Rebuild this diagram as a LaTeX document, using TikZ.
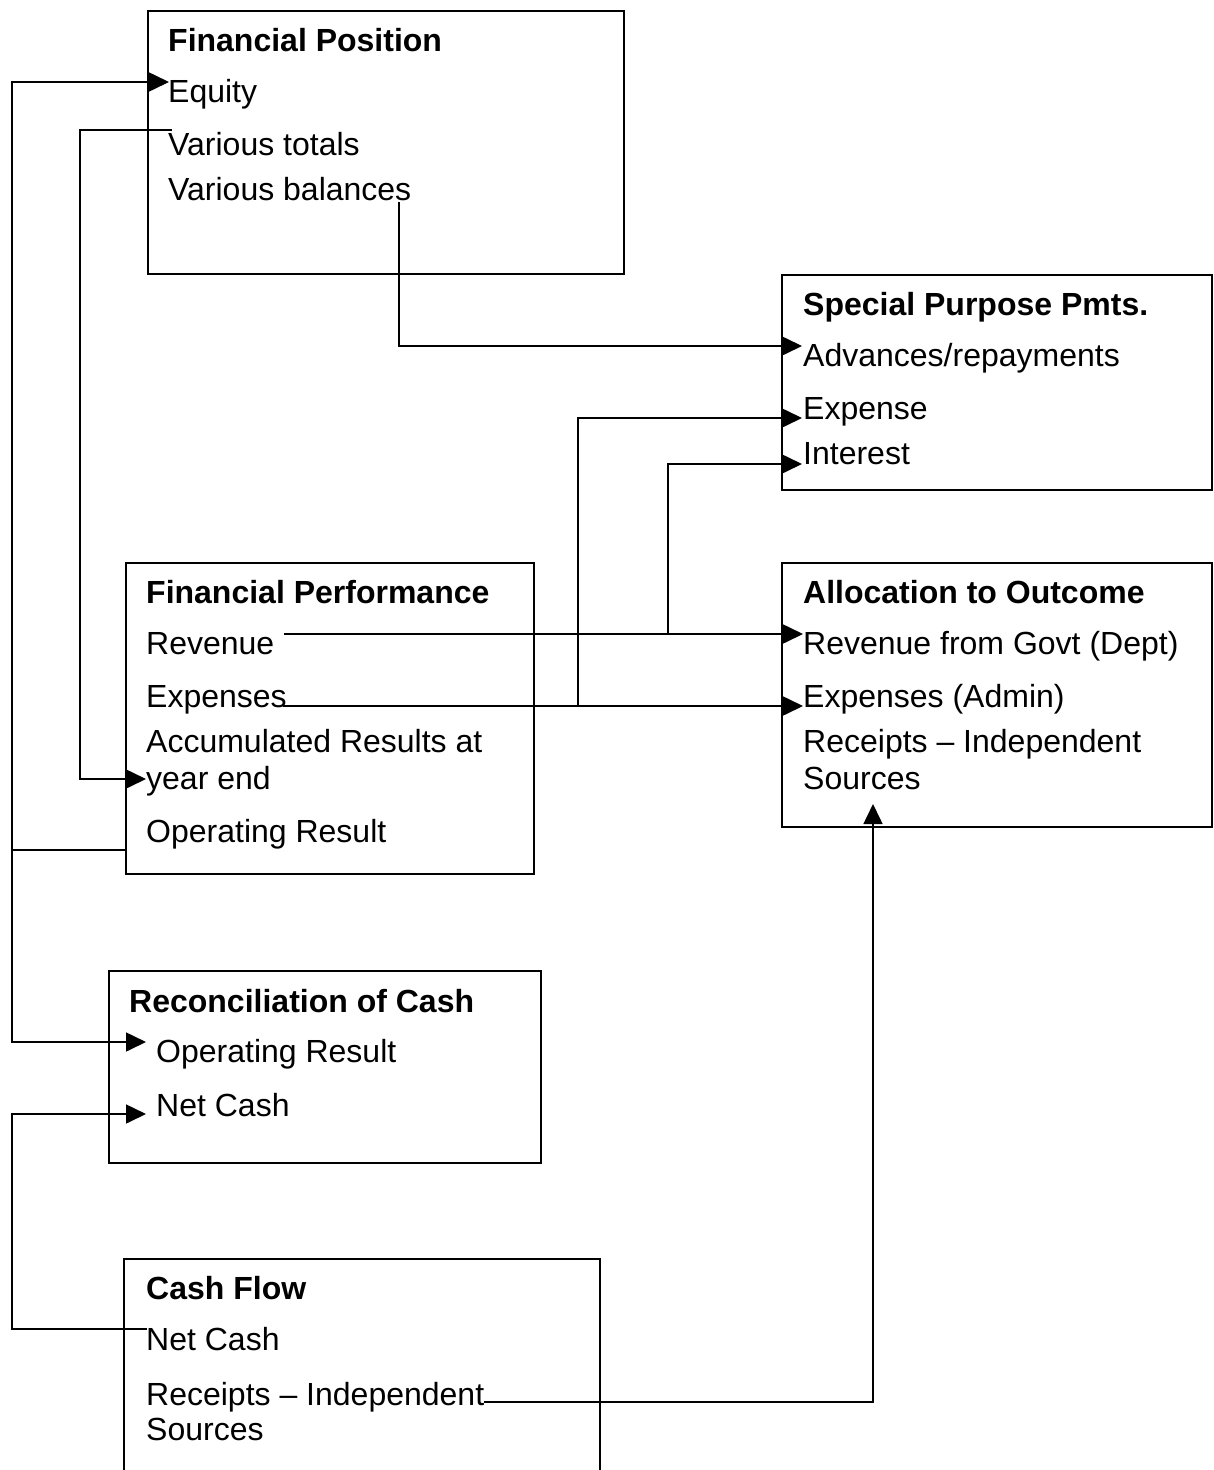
\documentclass[tikz,border=0pt]{standalone}
\usepackage{fontspec}
\setmainfont{Liberation Sans}
\usetikzlibrary{arrows.meta}
\begin{document}
\begin{tikzpicture}[x=1pt,y=-1pt,
  box/.style={draw, line width=1.6pt, anchor=north west, inner sep=0pt},
  txt/.style={anchor=base west, inner sep=0pt, font=\fontsize{32}{38}\selectfont},
  ttl/.style={txt, font=\fontsize{32}{38}\selectfont\bfseries},
  conn/.style={line width=1.6pt},
  arr/.style={conn, -{Triangle[length=20pt,width=19pt]}}]
\useasboundingbox (0,0) rectangle (1213,1470);
% boxes
\node[box, minimum width=476pt, minimum height=263pt] (fpos) at (147,10) {};
\node[box, minimum width=430pt, minimum height=215pt] (spp) at (781,274) {};
\node[box, minimum width=408pt, minimum height=311pt] (fperf) at (125,562) {};
\node[box, minimum width=430pt, minimum height=264pt] (alloc) at (781,562) {};
\node[box, minimum width=432pt, minimum height=192pt] (recon) at (108,970) {};
\draw[line width=1.6pt] (124,1480) -- (124,1259) -- (600,1259) -- (600,1480);
% texts: Financial Position
\node[ttl] (fpost) at (168,51) {Financial Position};
\node[txt] (equity) at (168,102) {Equity};
\node[txt] (vtot) at (168,155) {Various totals};
\node[txt] (vbal) at (168,200) {Various balances};
% Special Purpose
\node[ttl] (sppt) at (803,315) {Special Purpose Pmts.};
\node[txt] (adv) at (803,366) {Advances/repayments};
\node[txt] (sexp) at (803,419) {Expense};
\node[txt] (sint) at (803,464) {Interest};
% Financial Performance
\node[ttl] (fperft) at (146,603) {Financial Performance};
\node[txt] (rev) at (146,654) {Revenue};
\node[txt] (exps) at (146,707) {Expenses};
\node[txt] (acc1) at (146,752) {Accumulated Results at};
\node[txt] (acc2) at (146,789) {year end};
\node[txt] (opr) at (146,842) {Operating Result};
% Allocation
\node[ttl] (allt) at (803,603) {Allocation to Outcome};
\node[txt] (arev) at (803,654) {Revenue from Govt (Dept)};
\node[txt] (aexp) at (803,707) {Expenses (Admin)};
\node[txt] (arec1) at (803,752) {Receipts – Independent};
\node[txt] (arec2) at (803,789) {Sources};
% Reconciliation
\node[ttl] (rect) at (129,1012) {Reconciliation of Cash};
\node[txt] (ropr) at (156,1062) {Operating Result};
\node[txt] (rnet) at (156,1116) {Net Cash};
% Cash Flow
\node[ttl] (cft) at (146,1299) {Cash Flow};
\node[txt] (cnet) at (146,1350) {Net Cash};
\node[txt] (crec1) at (146,1405) {Receipts – Independent};
\node[txt] (crec2) at (146,1440) {Sources};
% connector points
\coordinate (oprS) at (125,850);
\coordinate (eqT) at (169,82);
\coordinate (roprT) at (146,1042);
\coordinate (vtotS) at (172,130);
\coordinate (accT) at (146,779);
\coordinate (vbalS) at (399,202);
\coordinate (advT) at (802,346);
\coordinate (revS) at (284,634);
\coordinate (arevT) at (803,634);
\coordinate (sintT) at (802,464);
\coordinate (expS) at (283,706);
\coordinate (aexpT) at (803,706);
\coordinate (sexpT) at (802,418);
\coordinate (cnetS) at (147,1329);
\coordinate (rnetT) at (146,1114);
\coordinate (crecS) at (484,1402);
\coordinate (arecT) at (873,804);
% connectors
\draw[arr] (oprS) -- (12,850) -- (12,82) -- (eqT);
\draw[arr] (12,850) -- (12,1042) -- (roprT);
\draw[arr] (vtotS) -- (80,130) -- (80,779) -- (accT);
\draw[arr] (vbalS) -- (399,346) -- (advT);
\draw[arr] (revS) -- (arevT);
\draw[arr] (668,634) -- (668,464) -- (sintT);
\draw[arr] (expS) -- (aexpT);
\draw[arr] (578,706) -- (578,418) -- (sexpT);
\draw[arr] (cnetS) -- (12,1329) -- (12,1114) -- (rnetT);
\draw[arr] (crecS) -- (873,1402) -- (arecT);
\end{tikzpicture}
\end{document}
